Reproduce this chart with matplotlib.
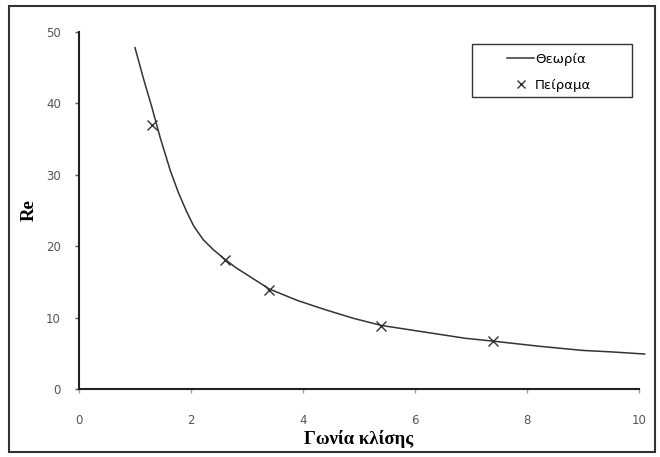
import matplotlib.pyplot as plt
from matplotlib import rcParams
from matplotlib.patches import Rectangle

rcParams['font.family'] = 'sans-serif'
rcParams['font.sans-serif'] = ['DejaVu Sans']
rcParams['xtick.direction'] = 'out'
rcParams['ytick.direction'] = 'out'

# theory curve
theory_x = [1.0, 1.15, 1.3, 1.45, 1.63, 1.78, 1.93, 2.05, 2.22, 2.4, 2.6, 2.8,
            3.0, 3.4, 3.9, 4.4, 4.9, 5.4, 6.4, 6.9, 7.4, 8.2, 8.6, 9.0, 9.5, 10.1]
theory_y = [47.8, 43.5, 39.5, 35.2, 30.6, 27.4, 24.7, 22.8, 20.9, 19.5, 18.2, 17.0,
            16.0, 14.0, 12.4, 11.1, 9.9, 8.9, 7.7, 7.1, 6.7, 6.0, 5.7, 5.4, 5.2, 4.9]

# experimental points
exp_x = [1.3, 2.6, 3.4, 5.4, 7.4]
exp_y = [37.0, 18.1, 13.9, 8.8, 6.7]

xticks = [0, 2, 4, 6, 8, 10]
yticks = [0, 10, 20, 30, 40, 50]

fig = plt.figure(figsize=(6.6, 4.57), dpi=100)
fig.patches.append(Rectangle((9 / 660, 1 - 452 / 457), 646 / 660, 446 / 457,
                             transform=fig.transFigure, fill=False,
                             edgecolor='#333333', linewidth=1.5))

ax = fig.add_axes([79 / 660, 1 - 389 / 457, 560 / 660, 357 / 457])

ax.plot(theory_x, theory_y, color='#333333', linewidth=1.1, label='Θεωρία',
        clip_on=False)
ax.plot(exp_x, exp_y, linestyle='none', marker='x', markersize=7,
        markeredgewidth=1.0, color='#333333', label='Πείραμα')

ax.set_xlim(0, 10)
ax.set_ylim(0, 50)
ax.set_xticks(xticks)
ax.set_yticks(yticks)

for s in ['top', 'right']:
    ax.spines[s].set_visible(False)
for s in ['left', 'bottom']:
    ax.spines[s].set_linewidth(1.5)
    ax.spines[s].set_color('#222222')

ax.tick_params(axis='y', length=3, width=1, pad=10, labelsize=8.5,
               labelcolor='#555555', color='#555555')
ax.tick_params(axis='x', length=3, width=1, pad=15, labelsize=8.5,
               labelcolor='#555555', color='#999999')

ax.set_xlabel('Γωνία κλίσης', family='Liberation Serif', fontweight='bold',
              fontsize=13.5, labelpad=2)
ax.set_ylabel('Re', family='Liberation Serif', fontweight='bold',
              fontsize=13.5, labelpad=6)

# legend without frame, frame drawn separately (wider box as in the original)
leg = ax.legend(loc='center', bbox_to_anchor=(0.84, 0.887),
                fontsize=9.5, frameon=False, handlelength=2.0,
                labelspacing=0.95, handletextpad=0.1, markerscale=0.8)
ax.add_patch(Rectangle(((472 - 79) / 560, (389 - 97) / 357), 160 / 560, 53 / 357,
                       transform=ax.transAxes, fill=False, clip_on=False,
                       edgecolor='#333333', linewidth=1.0))

fig.savefig('out.png', dpi=100)
